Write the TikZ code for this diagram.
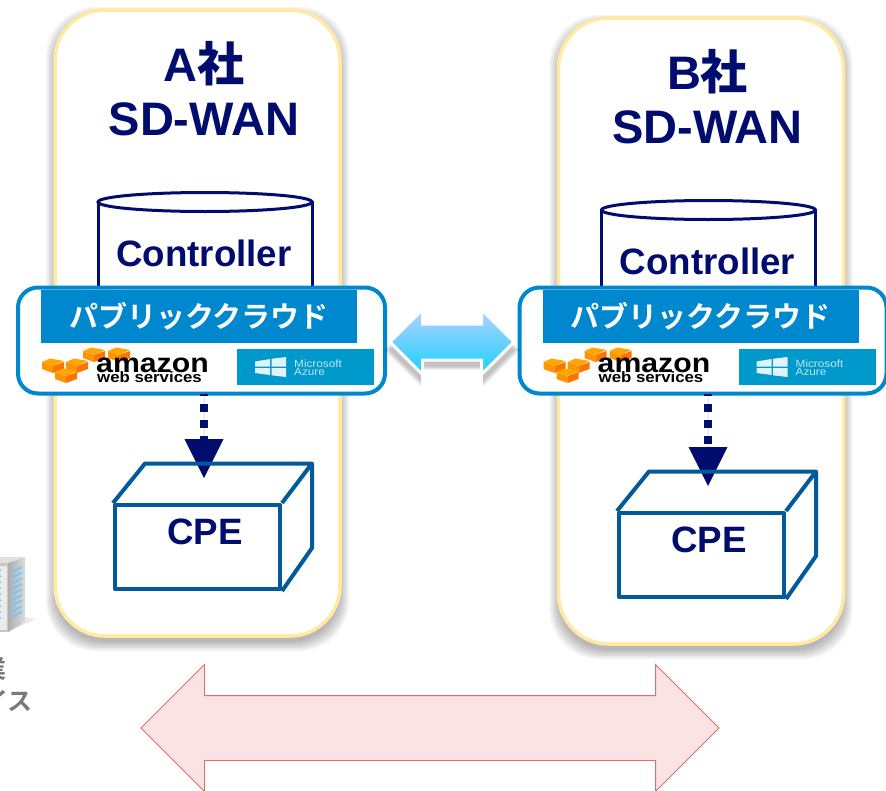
\documentclass[tikz,border=0pt]{standalone}
\usepackage{fontspec}
\setmainfont{Liberation Sans}
\newfontfamily\jpb{Noto Sans CJK JP Bold}
\usetikzlibrary{arrows.meta,shapes.arrows}
\definecolor{navy}{HTML}{000C6E}
\definecolor{panelline}{HTML}{FFE9A3}
\definecolor{cloudblue}{HTML}{0088CE}
\definecolor{azureblue}{HTML}{0099CC}
\definecolor{boxblue}{HTML}{005A9C}
\tikzset{
  x=1pt,y=-1pt,
  panel/.style={draw=panelline,line width=3.5pt,fill=white,rounded corners=50pt,minimum width=285pt,minimum height=626pt,inner sep=0pt,outer sep=0pt},
  cloud/.style={draw=cloudblue,line width=4pt,fill=white,rounded corners=20pt,minimum width=367pt,minimum height=106pt,inner sep=0pt,outer sep=0pt},
  banner/.style={fill=cloudblue,text=white,minimum width=316pt,minimum height=53pt,inner sep=0pt,font=\jpb\fontsize{29}{29}\selectfont},
  azurebox/.style={fill=azureblue,minimum width=137pt,minimum height=36pt,inner sep=0pt},
  title/.style={text=navy,inner sep=0pt,align=center,font=\bfseries\fontsize{47}{54}\selectfont},
  label/.style={text=navy,inner sep=0pt,font=\bfseries\fontsize{36.7}{40}\selectfont},
  shell/.style={draw=boxblue,line width=4pt,line join=round},
  cyl/.style={draw=navy,line width=3pt,fill=white},
  dottedarrow/.style={draw=navy,fill=navy,line width=7.5pt,dash pattern=on 8pt off 8pt,dash phase=6pt,-{Triangle[width=39pt,length=39pt,line width=0pt]}},
  graytext/.style={text=black!52,inner sep=0pt,font=\jpb\fontsize{25}{25}\selectfont},
  softshadow/.style={fill=black,opacity=.045,rounded corners=50pt},
}
% one AWS cube
\newcommand{\awscube}[2]{%
  \fill[orange!85!yellow] (#1-11,#2) -- (#1,#2+4) -- (#1,#2+11) -- (#1-11,#2+7) -- cycle;
  \fill[orange!90!red] (#1+11,#2) -- (#1,#2+4) -- (#1,#2+11) -- (#1+11,#2+7) -- cycle;
  \fill[orange!70!yellow] (#1-11,#2) -- (#1-3,#2-3.5) -- (#1+11,#2-1) -- (#1,#2+4) -- cycle;
}
% cylinder, panel, CPE: id, dx, dy, letter
\newcommand{\company}[4]{%
  \begin{scope}[shift={(#2,#3)}]
    \foreach \g in {0,1.5,...,9} {
      \fill[softshadow] (55-\g,10+6-\g) rectangle (340+\g,636+6+\g);
    }
    \node[panel] (panel#1) at (197.5,323) {};
    \node[title] (title#1) at (204,89) {#4{\jpb 社}\\SD-WAN};
    \path[cyl] (98,202) -- (98,292) -- (312,292) -- (312,202) -- cycle;
    \path[cyl] (205,202) ellipse [x radius=107,y radius=9.5];
    \node[label] (ctrl#1) at (204,253) {Controller};
  \end{scope}}
\newcommand{\cloudgroup}[2]{%
  \begin{scope}[shift={(#2,0)}]
    \node[cloud] (cloud#1) at (201.5,340.5) {};
    \node[banner] (banner#1) at (199,316.5) {パブリッククラウド};
    \awscube{94}{351}\awscube{119}{351}
    \awscube{53}{362}\awscube{77}{362}\awscube{66}{372}
    \node[inner sep=0pt,anchor=base west] (amazon#1) at (96,372) {\scalebox{1.12}[1]{\fontsize{27}{27}\selectfont\bfseries amazon}};
    \node[inner sep=0pt,anchor=base west] (aws#1) at (97,382) {\scalebox{1.12}[1]{\fontsize{15}{15}\selectfont\bfseries web services}};
    \node[azurebox] (azure#1) at (305.5,367) {};
    \fill[white!88!azureblue] (255,361.5) -- (270,359) -- (270,366.5) -- (255,366.5) -- cycle
      (271.5,358.8) -- (286,357) -- (286,366.5) -- (271.5,366.5) -- cycle
      (255,368) -- (270,368) -- (270,375) -- (255,373) -- cycle
      (271.5,368) -- (286,368) -- (286,377) -- (271.5,375.3) -- cycle;
    \node[inner sep=0pt,anchor=base west,text=white!75!azureblue,font=\fontsize{10.5}{10.5}\selectfont] (ms#1) at (294,367) {\scalebox{1.12}[1]{Microsoft}};
    \node[inner sep=0pt,anchor=base west,text=white!75!azureblue,font=\fontsize{10.5}{10.5}\selectfont] (az#1) at (294,375) {\scalebox{1.12}[1]{Azure}};
  \end{scope}}
\newcommand{\cpegroup}[4]{%
  \begin{scope}[shift={(#2,#3)}]
    \coordinate (tip#1) at (204,478);
    \draw[dottedarrow] (cloud#1.south -| tip#1) -- (tip#1);
    \node[minimum width=165pt,minimum height=84pt,inner sep=0pt,shell] (front#1) at (197.5,547) {};
    \draw[shell] (front#1.north west) -- (145,463.5) -- (312,463.5) -- (front#1.north east);
    \draw[shell] (312,463.5) -- (312,548) -- (front#1.south east);
    \node[label] (cpe#1) at (205,532) {CPE};
  \end{scope}}
\begin{document}
\begin{tikzpicture}
\useasboundingbox (0,0) rectangle (886,790);
\clip (0,0) rectangle (886,790);
\fill[white] (0,0) rectangle (886,790);
% server, cut by the edge
\fill[black!8] (-20,630) -- (8,632) -- (36,619) -- (26,617) -- cycle;
\fill[black!12] (-40,557) -- (14,557) -- (25,557) -- (8,563) -- (-40,563) -- cycle;
\shade[left color=black!32,right color=black!14] (8,563) -- (25,557) -- (25,622) -- (8,632) -- cycle;
\fill[black!22] (-40,563) rectangle (8,632);
\fill[black!8] (-40,566) rectangle (6.5,630);
\foreach \i in {0,...,8} {
  \draw[color=blue!40!cyan!55,line width=1.8pt] (12,572+\i*5.6) -- (22,567+\i*5.6);
  \draw[color=blue!40!cyan!55,line width=1.5pt] (-3,571+\i*6) -- (1,570+\i*6);
}
\node[graytext,anchor=east] (gr1) at (7,669) {業};
\node[graytext,anchor=east] (gr2) at (33,701) {イス};
% panels
\company{A}{0}{0}{A}
\company{B}{503.5}{8}{B}
\cloudgroup{A}{0}
\cloudgroup{B}{501.5}
\cpegroup{A}{0}{0}{A}
\cpegroup{B}{504}{8}{B}
% blue arrow
\foreach \g in {0,1.5,...,6} {
  \node[double arrow,double arrow head extend=14.5pt,minimum height=124pt+2*\g pt,minimum width=62pt+2*\g pt,inner xsep=0pt,inner ysep=16.5pt,fill=black,opacity=.05] at (452,350) {};
}
\node[double arrow,double arrow head extend=14.5pt,minimum height=124pt,minimum width=62pt,inner xsep=0pt,inner ysep=16.5pt,outer sep=0pt,draw=white,line width=3pt,top color=cyan!40!blue!30!white,bottom color=cyan!80!blue!90] (linkcloud) at (452,342) {};
% pink arrow
\node[double arrow,double arrow head extend=31pt,minimum height=578pt,minimum width=126pt,inner xsep=0pt,inner ysep=32pt,outer sep=0pt,draw={rgb,255:red,222;green,110;blue,110},line width=.8pt,fill={rgb,255:red,251;green,227;blue,227}] (linkcpe) at (430,728) {};
\end{tikzpicture}
\end{document}
